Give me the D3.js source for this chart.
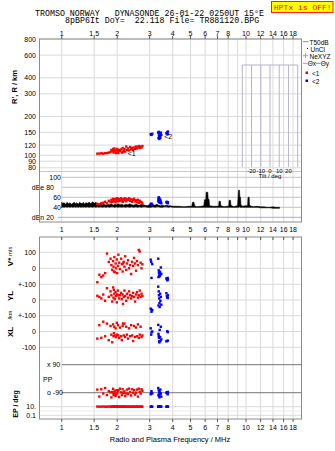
<!DOCTYPE html>
<html><head><meta charset="utf-8">
<script src="https://cdn.jsdelivr.net/npm/d3@7"></script>
<style>
body{margin:0;background:#fff}
svg{display:block}
text{font-family:"Liberation Sans",Arial,sans-serif;fill:#000}
.mono{font-family:"Liberation Mono","DejaVu Sans Mono",monospace;white-space:pre}
</style>
</head><body><svg id="c" width="335" height="451"></svg>
<script>
// ---------- tick labels ----------
const freqTicksOuter=[1,1.5,2,3,4,5,6,7,8,10,12,14,16,18];
const freqTicksMid=[1,1.5,2,3,4,5,6,7,8,9,10,12,14,16,18];
const heightTicks=[80,90,100,120,150,200,300,400,600,800];
const ampGrid=[100,80,60,40];
const tiltTicks=[-30,-20,-10,0,10,20,30];
const tiltLabels=[-20,-10,0,10,20];

// ---------- echoes class <1 (red) ----------
const r1Freq=[1.56,1.60,1.64,1.68,1.72,1.76,1.80,1.84,1.86,1.88,1.90,1.91,1.93,1.94,1.96,1.97,1.99,2.00,2.02,2.05,2.07,2.10,2.12,2.14,2.17,2.19,2.21,2.24,2.26,2.29,2.32,2.35,2.38,2.41,2.44,2.47,2.50,2.53,2.56,2.59,2.62,2.65,2.68,2.71,2.74,1.92,2.03,2.15];
const r1Height=[103,103,104,103,104,104,105,106,110,108,112,105,113,107,110,104,109,112,106,110,108,111,105,114,109,112,107,117,110,113,109,116,111,114,110,115,112,117,113,116,118,114,117,115,118,108,104,106];
const r1Amp=[47,46,48,49,51,48,53,50,55,51,57,53,52,56,50,57,54,58,52,56,53,58,55,51,57,54,58,52,56,55,58,53,56,51,55,57,52,54,50,55,49,53,51,50,48,55,57,52];
const r1V=[-87,-40,-55,-45,-30,92,40,60,20,-10,45,10,70,-25,30,0,55,-30,15,35,-5,60,25,-20,40,10,75,-10,30,50,0,20,-35,40,15,65,30,-15,45,20,115,105,35,0,25,-20,85,30];
const r1YL=[27,20,10,35,-5,75,20,55,30,-10,80,15,40,5,50,25,-15,35,60,10,30,45,5,35,20,60,25,-5,40,15,55,30,10,25,45,20,-10,35,50,15,30,60,20,40,25,65,30,-25];
const r1XL=[-45,40,-40,62,-30,50,-55,35,-20,-68,45,-30,30,-25,20,-35,55,-20,40,-40,25,-30,-55,35,-25,50,-35,30,-20,-45,20,-30,40,-25,-60,35,-35,25,-30,45,-40,-20,30,-35,-25,-10,-25,50];
const r1PP=[-70,-115,-68,-95,-60,-105,-80,-88,-120,-85,-65,-100,-90,-78,-110,-100,-74,-95,-80,-118,-64,-88,-105,-68,-92,-82,-112,-95,-70,-98,-64,-86,-108,-68,-90,-74,-102,-90,-70,-115,-64,-84,-96,-68,-78,-105,-74,-90];
const r1EP=[11,10,10,11,10,10,11,10,10,11,10,10,11,10,10,11,10,10,11,10,10,10,11,10,10,10,11,10,10,10,11,10,10,10,11,10,10,10,11,10,10,10,10,11,10,10,10,10];

// ---------- echoes class <2 (blue) ----------
const r2Freq=[3.04,3.07,3.10,3.34,3.36,3.37,3.38,3.39,3.40,3.42,3.43,3.45,3.47,3.70,3.74,3.77,3.76,3.35,3.06,3.72];
const r2Height=[146,145,147,150,152,143,139,134,148,141,137,150,144,148,151,153,146,136,144,149];
const r2Amp=[46,47,45,52,60,56,50,58,54,49,55,51,48,50,49,50,48,57,47,51];
const r2V=[54,-60,26,60,-13,-30,-45,-20,-50,-25,-40,5,-35,-63,-75,-70,-60,-55,40,-68];
const r2YL=[-55,-75,-65,85,55,30,10,-20,-45,40,-5,20,-30,43,17,30,13,-35,-60,25];
const r2XL=[20,-5,0,42,-28,-40,-62,-69,10,-35,-60,30,-50,-62,2,-58,-4,-15,-20,-60];
const r2PP=[-100,-80,-95,-60,-75,-110,-90,-120,-85,-100,-70,-95,-115,-90,-95,-85,-100,-105,-90,-88];
const r2EP=[10,11,10,10,13,10,11,10,10,12,10,10,10,10,11,10,10,10,10,10];

// ---------- noise (T50dB) envelope ----------
const noiseFreq=[1.00,1.01,1.03,1.05,1.07,1.09,1.11,1.13,1.15,1.17,1.19,1.21,1.23,1.25,1.27,1.29,1.31,1.33,1.35,1.38,1.41,1.44,1.47,1.50,1.53,1.56,1.59,1.62,1.66,1.70,1.74,1.78,1.82,1.86,1.90,1.94,1.98,2.02,2.07,2.12,2.17,2.22,2.28,2.34,2.40,2.46,2.52,2.58,2.64,2.70,2.77,2.84,2.91,2.98,3.05,3.12,3.20,3.28,3.36,3.44,3.52,3.60,3.70,3.80,3.90,4.00,4.30,4.60,4.90,5.08,5.12,5.22,5.26,5.40,5.70,5.90,5.95,6.05,6.08,6.20,6.23,6.30,6.34,6.60,6.90,7.10,7.14,7.26,7.30,7.60,7.90,8.05,8.10,8.24,8.28,8.60,8.90,9.00,9.05,9.10,9.22,9.26,9.34,9.38,9.60,9.90,10.2,10.25,10.40,10.45,10.7,11.0,11.5,12.0,12.5,13.0,13.5,14.0,14.5,15.2];
const noiseHi=[50,48,49,46,50,47,49,46,48,50,47,49,46,50,48,47,50,46,49,48,50,47,51,48,50,47,46,48,45,46,44,46,45,47,44,46,45,47,45,46,44,46,45,47,45,44,46,45,44,46,45,44,43,45,47,45,44,46,44,43,44,43,44,43,43,42,42,41,42,42,50,50,43,41,42,43,55,55,70,70,56,56,43,42,42,42,52,52,43,41,42,42,54,54,44,41,43,43,58,74,74,60,60,45,42,43,43,60,60,44,42,41,42,41,41,40,40,41,40,40];
const noiseLo=[39,41,40,41,40,41,40,41,40,41,40,41,40,41,40,41,40,41,40,41,40,41,40,41,40,41,40,41,40,41,40,41,40,41,41,40,41,40,41,40,41,40,41,40,41,40,41,40,41,40,41,41,40,40,40,41,40,41,41,40,40,41,41,40,41,40,40,40,40,40,40,40,40,40,40,40,40,40,40,40,40,40,40,40,40,40,40,40,40,40,40,40,40,40,40,40,40,40,40,40,41,40,40,40,40,40,40,40,40,40,40,40,40,39,39,39,39,38,38,38,38];

// ---------- build ----------
const red1=r1Freq.map((f,i)=>({f,h:r1Height[i],a:r1Amp[i],v:r1V[i],yl:r1YL[i],xl:r1XL[i],pp:r1PP[i],ep:r1EP[i]}));
const blue2=r2Freq.map((f,i)=>({f,h:r2Height[i],a:r2Amp[i],v:r2V[i],yl:r2YL[i],xl:r2XL[i],pp:r2PP[i],ep:r2EP[i]}));
const noise=noiseFreq.map((f,i)=>({f,hi:noiseHi[i],lo:noiseLo[i]}));

const svg=d3.select('#c');
svg.append('rect').attr('width',335).attr('height',451).attr('fill','#fff');
const L=39.5,R=301.5;
const TOP1=39,BOT1=222,SEP=171.5,TOP2=237,BOT2=419;
const x=d3.scaleLog().domain([0.7576,20]).range([L,R]);
const yH=d3.scaleLog().domain([75,800]).range([171.4,39]);
const yA=d3.scaleLinear().domain([20,100]).range([217.3,177.3]);
const yV=d3.scaleLinear().domain([-100,100]).range([284.3,252.3]);
const yYL=d3.scaleLinear().domain([-100,100]).range([315.7,284.3]);
const yXL=d3.scaleLinear().domain([-100,100]).range([347.3,315.7]);
const yPP=d3.scaleLinear().domain([-90,90]).range([392.7,364.7]);
const yEP=d3.scaleLog().domain([0.1,10]).range([415.3,406.7]);
const xT=d3.scaleLinear().domain([-30,30]).range([242.3,297.7]);

const GRID='#dadada',FRAME='#8c8c8c';
const g=svg.append('g');
function hline(y,x1,x2,c,w){g.append('line').attr('x1',x1).attr('x2',x2).attr('y1',y).attr('y2',y).attr('stroke',c).attr('stroke-width',w||1);}
function vline(xx,y1,y2,c,w){g.append('line').attr('x1',xx).attr('x2',xx).attr('y1',y1).attr('y2',y2).attr('stroke',c).attr('stroke-width',w||1);}
function txt(s,xx,yy,o){const t=g.append('text').attr('x',xx).attr('y',yy).text(s).attr('font-size',(o&&o.fs)||7).attr('text-anchor',(o&&o.anchor)||'end').attr('dominant-baseline','central');if(o&&o.bold)t.attr('font-weight','bold');if(o&&o.fill)t.style('fill',o.fill);return t;}

// vertical gridlines
freqTicksMid.forEach(f=>{vline(x(f),TOP1,BOT1,GRID);vline(x(f),TOP2,BOT2,GRID);});
// height grid
heightTicks.forEach(h=>{hline(yH(h),L,R,GRID);txt(h,36,yH(h));});
hline(SEP,L,R,'#c8c8c8');
// amplitude grid
ampGrid.forEach(a=>hline(yA(a),x(1),R,'#c4c4c4'));
hline(yA(20),x(0.95),R,'#a8a8e0');
txt('100',61,yA(100));txt('dBe 80',54,yA(80));txt('60',61,yA(60));txt('40',61,yA(40));txt('dBn 20',54,yA(20));

// doppler grid
[[yV,100,'100'],[yV,0,'0'],[yV,-100,'+-100'],[yYL,0,'0'],[yYL,-100,'+-100'],[yXL,0,'0'],[yXL,-100,'-100']].forEach(d=>{hline(d[0](d[1]),L,R,GRID);txt(d[2],36,d[0](d[1]));});
hline(yPP(90),x(1),R,'#777');hline(yPP(-90),x(1),R,'#777');
txt('x  90',47,yPP(90),{anchor:'start'});txt('PP',43,379.3,{anchor:'start'});txt('o -90',47,yPP(-90),{anchor:'start'});
hline(yEP(10),L,R,GRID);hline(yEP(0.1),L,R,GRID);hline(yEP(1),L,R,'#ececec');
txt('10.',36,yEP(10));txt('0.1',36,yEP(0.1));

// frames
g.append('rect').attr('x',L).attr('y',TOP1).attr('width',R-L).attr('height',BOT1-TOP1).attr('fill','none').attr('stroke',FRAME);
g.append('rect').attr('x',L).attr('y',TOP2).attr('width',R-L).attr('height',BOT2-TOP2).attr('fill','none').attr('stroke',FRAME);

// frequency ticks + labels
freqTicksOuter.forEach(f=>{vline(x(f),TOP1-3,TOP1,'#555');txt(f,x(f),33,{anchor:'middle'});});
freqTicksMid.forEach(f=>{vline(x(f),TOP2,TOP2+3,'#555');txt(f,x(f),229,{anchor:'middle'});});
freqTicksOuter.forEach(f=>{vline(x(f),BOT2,BOT2+3,'#555');txt(f,x(f),427,{anchor:'middle'});});
txt('Radio and Plasma Frequency / MHz',170,439,{anchor:'middle',fs:7.5});

// tilt inset
tiltTicks.forEach(t=>vline(xT(t),65,167,'#b4b4cc'));
hline(65,xT(-30),xT(30),'#b4b4cc');
tiltLabels.forEach(t=>txt(t,xT(t),170.5,{anchor:'middle',fs:6}));
txt('Tilt / deg',xT(0),175.5,{anchor:'middle',fs:6});

// axis titles
function vtxt(s,xx,yy,fs,bold){const t=g.append('text').attr('transform',`translate(${xx},${yy}) rotate(-90)`).attr('text-anchor','middle').attr('dominant-baseline','central').attr('font-size',fs).text(s);if(bold)t.attr('font-weight','bold');return t;}
vtxt("R', R / km",14,87,7.5,true);
const vt=g.append('text').attr('transform','translate(10,256.5) rotate(-90)').attr('text-anchor','middle').attr('dominant-baseline','central');
vt.append('tspan').attr('font-size',8).attr('font-weight','bold').text('V*');
vt.append('tspan').attr('font-size',5.5).attr('dx',2).text('m/s');
vtxt('YL',10,296,8,true);
vtxt('/km',10,315,5.5,false);
vtxt('XL',10,332,8,true);
vtxt('EP / deg',15,404,7,true);

// noise band
g.append('path').datum(noise).attr('fill','#000').attr('stroke','#000').attr('stroke-width',0.6)
 .attr('d',d3.area().x(d=>x(d.f)).y0(d=>yA(d.lo)).y1(d=>yA(d.hi)));

// echoes
const S=2.4;
function pts(data,color,ys,key){
  g.append('g').selectAll('rect').data(data).join('rect')
   .attr('x',d=>x(d.f)-S/2).attr('y',d=>ys(d[key])-S/2).attr('width',S).attr('height',S).attr('fill',color);
}
[[red1,'#ff0000'],[blue2,'#0000ff']].forEach(([d,c])=>{
  pts(d,c,yH,'h');pts(d,c,yA,'a');pts(d,c,yV,'v');pts(d,c,yYL,'yl');pts(d,c,yXL,'xl');pts(d,c,yPP,'pp');pts(d,c,yEP,'ep');
});
txt('<1',x(2.28),yH(102.5),{anchor:'start',fs:7});
txt('<2',x(3.6),yH(139),{anchor:'start',fs:7});

// legend
const lg=g.append('g');
function ltxt(s,xx,yy,fill){return lg.append('text').attr('x',xx).attr('y',yy).attr('font-size',6.5).attr('dominant-baseline','central').text(s).style('fill',fill||'#000');}
lg.append('line').attr('x1',303).attr('x2',308.5).attr('y1',41.7).attr('y2',41.7).attr('stroke','#888');
ltxt('T50dB',309.5,42);
lg.append('rect').attr('x',307).attr('y',48).attr('width',1).attr('height',1).attr('fill','#000');
ltxt('UnCl',310.5,49.3);
lg.append('path').attr('d','M303,55.7h5M305.5,53.2v5').attr('stroke','#f08080');
ltxt('NeXYZ',309.5,56);
lg.append('line').attr('x1',303).attr('x2',307.5).attr('y1',63.3).attr('y2',63.3).attr('stroke','#f08080');
ltxt('\u0398x',307.8,63.5);
lg.append('line').attr('x1',316).attr('x2',320.5).attr('y1',63.3).attr('y2',63.3).attr('stroke','#8080f0');
ltxt('\u0398y',320.8,63.5);
lg.append('rect').attr('x',305.5).attr('y',71.5).attr('width',2.5).attr('height',2.5).attr('fill','#ff0000');
ltxt('<1',312,73.5);
lg.append('rect').attr('x',305.5).attr('y',79.5).attr('width',2.5).attr('height',2.5).attr('fill','#0000ff');
ltxt('<2',312,81.5);

// header
svg.append('text').attr('class','mono').attr('x',35).attr('y',15.5).attr('font-size',8.3).text('TROMSO NORWAY   DYNASONDE 26-01-22 0250UT 15\u00b0E');
svg.append('text').attr('class','mono').attr('x',65).attr('y',23).attr('font-size',8.3).text('8pBP6It DoY=  22.118 File= TR881120.BPG');
svg.append('rect').attr('x',271.5).attr('y',1.5).attr('width',61.5).attr('height',11).attr('fill','#ffff00').attr('stroke','#ff2000');
svg.append('text').attr('class','mono').attr('x',274).attr('y',10).attr('font-size',8).style('fill','#ff0000').text('HPTx is OFF!');
</script>
</body></html>
